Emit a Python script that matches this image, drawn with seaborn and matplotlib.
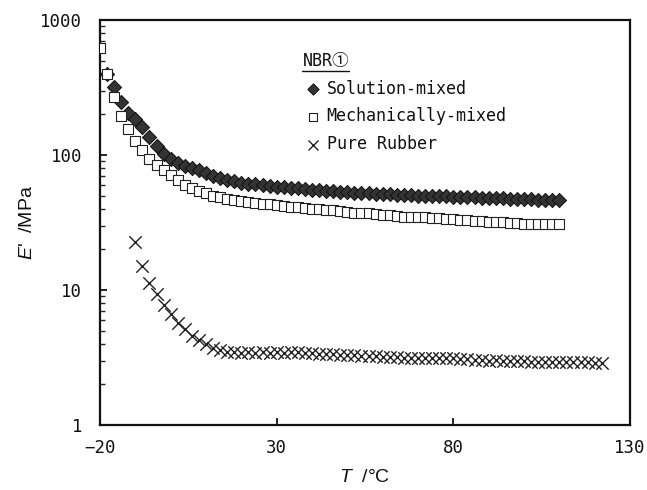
import matplotlib
matplotlib.use("Agg")
import matplotlib.pyplot as plt
import seaborn as sns
import pandas as pd
from matplotlib.lines import Line2D
from matplotlib.ticker import LogLocator, NullFormatter, FixedLocator

# ---------------- data ----------------
T_solution = [-18, -16, -14, -12, -10, -8, -6, -4, -2, 0, 2, 4, 6, 8, 10, 12, 14, 16, 18, 20,
              22, 24, 26, 28, 30, 32, 34, 36, 38, 40, 42, 44, 46, 48, 50, 52, 54, 56, 58, 60,
              62, 64, 66, 68, 70, 72, 74, 76, 78, 80, 82, 84, 86, 88, 90, 92, 94, 96, 98, 100,
              102, 104, 106, 108, 110]
E_solution = [400, 320, 245, 205, 185, 160, 135, 117, 101, 93, 87, 83, 80, 77, 73, 70, 68, 65.5, 64, 62.5,
              61.5, 60.5, 59.5, 58.5, 58, 57.5, 57, 56.5, 56, 55.5, 55, 54.5, 54, 53.5, 53, 52.7, 52.4, 52, 51.7, 51.4,
              51.1, 50.8, 50.5, 50.3, 50.1, 49.9, 49.7, 49.5, 49.3, 49.1, 48.9, 48.7, 48.5, 48.3, 48.1, 47.9, 47.7, 47.5, 47.3, 47.1,
              46.9, 46.7, 46.5, 46.3, 46.1]

T_mech = [-20, -18, -16, -14, -12, -10, -8, -6, -4, -2, 0, 2, 4, 6, 8, 10, 12, 14, 16, 18, 20,
          22, 24, 26, 28, 30, 32, 34, 36, 38, 40, 42, 44, 46, 48, 50, 52, 54, 56, 58, 60,
          62, 64, 66, 68, 70, 72, 74, 76, 78, 80, 82, 84, 86, 88, 90, 92, 94, 96, 98, 100,
          102, 104, 106, 108, 110]
E_mech = [620, 400, 270, 195, 155, 128, 108, 94, 85, 78, 71, 65, 60, 57, 54, 52, 50, 48.5, 47.5, 46.5, 45.5,
          44.5, 44, 43.5, 43, 42.5, 42, 41.5, 41, 40.5, 40, 39.5, 39, 39, 38.5, 38, 37.5, 37.5, 37, 36.5, 36,
          36, 35.5, 35, 35, 34.5, 34.5, 34, 34, 33.5, 33.5, 33, 33, 32.5, 32.5, 32, 32, 32, 31.5, 31.5, 31,
          31, 31, 30.8, 30.8, 30.8]

T_pure = [-10, -8, -6, -4, -2, 0, 2, 4, 6, 8, 10, 12, 14, 16, 18, 20,
          22, 24, 26, 28, 30, 32, 34, 36, 38, 40, 42, 44, 46, 48, 50, 52, 54, 56, 58, 60,
          62, 64, 66, 68, 70, 72, 74, 76, 78, 80, 82, 84, 86, 88, 90, 92, 94, 96, 98, 100,
          102, 104, 106, 108, 110, 112, 114, 116, 118, 120, 122]
E_pure = [22.5, 15, 11.3, 9.3, 7.8, 6.6, 5.7, 5.1, 4.6, 4.25, 3.95, 3.75, 3.6, 3.5, 3.45, 3.42,
          3.45, 3.42, 3.45, 3.43, 3.45, 3.42, 3.45, 3.47, 3.43, 3.4, 3.38, 3.35, 3.33, 3.3, 3.3, 3.28, 3.27, 3.25, 3.22, 3.2,
          3.2, 3.18, 3.16, 3.15, 3.14, 3.13, 3.12, 3.11, 3.12, 3.15, 3.1, 3.08, 3.05, 3.03, 3.0, 3.02, 3.0, 2.98, 2.97, 2.96,
          2.95, 2.95, 2.94, 2.94, 2.93, 2.93, 2.92, 2.92, 2.91, 2.9, 2.9]

series_labels = ["Solution-mixed", "Mechanically-mixed", "Pure Rubber"]
legend_title = "NBR①"
x_ticks = [-20, 30, 80, 130]
y_ticks = [1, 10, 100, 1000]
x_label = r"$T$  /°C"
y_label = r"$E$'  /MPa"

# ---------------- style ----------------
sns.set_theme(style="ticks")
mono = ["DejaVu Sans Mono", "Noto Sans CJK JP"]
plt.rcParams["font.family"] = mono
plt.rcParams["mathtext.fontset"] = "custom"
plt.rcParams["mathtext.it"] = "Liberation Sans:italic"
plt.rcParams["mathtext.rm"] = "Liberation Sans"

fig = plt.figure(figsize=(6.47, 4.90), dpi=100)
ax = fig.add_axes([100 / 647, 1 - 425 / 490, 530 / 647, 405 / 490])

df_s = pd.DataFrame({"T": T_solution, "E": E_solution})
df_m = pd.DataFrame({"T": T_mech, "E": E_mech})
df_p = pd.DataFrame({"T": T_pure, "E": E_pure})

sns.scatterplot(data=df_s, x="T", y="E", marker="D", s=52, color="#333333",
                edgecolor="#111111", linewidth=0.7, label=series_labels[0], ax=ax, zorder=3)
sns.scatterplot(data=df_m, x="T", y="E", marker="s", s=62, facecolor="white",
                edgecolor="#222222", linewidth=0.8, label=series_labels[1], ax=ax, zorder=4)
sns.scatterplot(data=df_p, x="T", y="E", marker="x", s=80, color="#222222",
                linewidth=1.0, label=series_labels[2], ax=ax, zorder=3)

ax.set_yscale("log")
ax.set_xlim(-20, 130)
ax.set_ylim(1, 1000)
ax.xaxis.set_major_locator(FixedLocator(x_ticks))
ax.yaxis.set_major_locator(FixedLocator(y_ticks))
ax.set_yticklabels([str(v) for v in y_ticks])
ax.yaxis.set_minor_locator(LogLocator(base=10, subs=range(2, 10)))
ax.yaxis.set_minor_formatter(NullFormatter())
ax.xaxis.set_minor_locator(FixedLocator([]))

for sp in ax.spines.values():
    sp.set_linewidth(1.6)
    sp.set_color("#111111")

ax.tick_params(axis="both", which="major", direction="in", length=5, width=1.3,
               labelsize=12.5, colors="#111111")
ax.tick_params(axis="x", which="major", pad=10)
ax.tick_params(axis="y", which="major", pad=13)
ax.tick_params(axis="y", which="minor", direction="in", length=3.5, width=1.0, left=True, right=False)
ax.tick_params(top=False, right=False)

lab_font = {"family": ["Liberation Sans", "DejaVu Sans"], "size": 14, "color": "#111111"}
ax.set_xlabel(x_label, fontdict=lab_font, labelpad=9)
ax.set_ylabel(y_label, fontdict=lab_font, labelpad=3)

leg = ax.legend(title=legend_title, loc="upper left", bbox_to_anchor=(0.36, 0.95),
                frameon=False, fontsize=12, title_fontsize=12, handlelength=1.3,
                handletextpad=0.15, labelspacing=0.58, borderpad=0.2, alignment="left",
                markerscale=0.8)
for t in leg.get_texts():
    t.set_color("#111111")
leg.get_title().set_color("#111111")

fig.canvas.draw()
bb = leg.get_title().get_window_extent()
inv = fig.transFigure.inverted()
(x0, y0), (x1, y1) = inv.transform([(bb.x0, bb.y0), (bb.x1, bb.y0)])
fig.add_artist(Line2D([x0, x1], [y0 - 1.5 / 490, y1 - 1.5 / 490], transform=fig.transFigure,
                      color="#111111", linewidth=1.0))

fig.savefig("out.png", dpi=100)
